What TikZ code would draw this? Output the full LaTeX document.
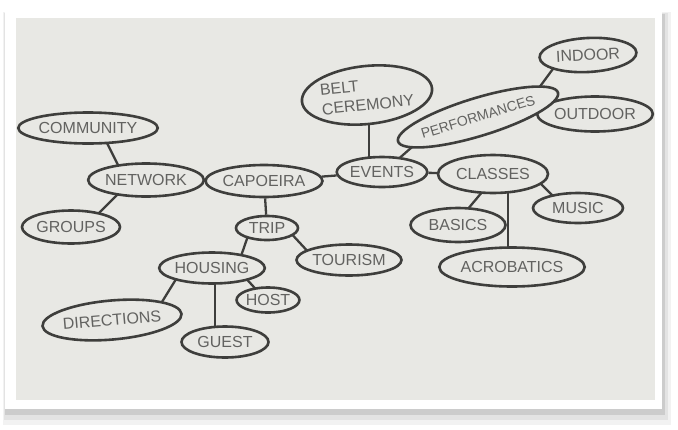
\documentclass[tikz,border=0pt]{standalone}
\usepackage{fontspec}
\setsansfont{Liberation Sans}
\usetikzlibrary{shapes.geometric,backgrounds}

\definecolor{paper}{RGB}{232,232,228}
\definecolor{ink}{RGB}{62,62,60}
\definecolor{pencil}{RGB}{98,98,96}

\tikzset{
  idea/.style={ellipse, draw=ink, fill=paper, line width=2.6pt, inner sep=0pt,
    text=pencil, font=\sffamily\fontsize{16}{20}\selectfont, align=left},
  link/.style={draw=ink, line width=2.3pt}
}

\begin{document}
\begin{tikzpicture}[x=1pt, y=-1pt]
  \useasboundingbox (0,0) rectangle (678,429);
  % Nodes
  \foreach \n/\x/\y/\w/\h/\r/\t in {
      comm/88/128/120/31/0/COMMUNITY,
      net/146/180/95/33/0/NETWORK,
      grp/71/227/92/33/0/GROUPS,
      cap/264/181/112/32/0/CAPOEIRA,
      evt/382/172/90/30/0/EVENTS,
      belt/367/95/130/58/6/{BELT\\CEREMONY},
      ind/588/55/97/34/3/INDOOR,
      out/595/114/100/35/0/OUTDOOR,
      cls/493/174/110/38/0/CLASSES,
      mus/578/208/90/30/0/MUSIC,
      bas/458/225/95/34/0/BASICS,
      acro/512/267/136/39/0/ACROBATICS,
      trip/267/228/62/24/0/TRIP,
      tour/349/260/105/31/0/TOURISM,
      hous/212/268/102/31/0/HOUSING,
      host/268/300/60/25/0/HOST,
      dir/112/320/132/39/5/DIRECTIONS,
      guest/225/342/87/31/0/GUEST} {
    \node[idea, minimum width=\w, minimum height=\h, rotate=\r] (\n) at (\x,\y) {\t};
  }
  \node[idea, minimum width=140, minimum height=38, rotate=17,
    font=\sffamily\fontsize{14}{15}\selectfont] (perf) at (478,117) {PERFORMANCES};

  \begin{pgfonlayer}{background}
    % Photo frame
    \fill[black!5] (3,12) rectangle (671,425);
    \fill[black!11] (4,13) rectangle (668,420);
    \fill[black!20] (5,14) rectangle (665,415);
    \fill[white] (5,10) rectangle (662,409);
    \fill[paper] (16,18) rectangle (655,400);
    % Links
    \draw[link] ([shift={(15,7)}]comm.center) -- ([shift={(-25,-9)}]net.center);
    \draw[link] ([shift={(24,-10)}]grp.center) -- ([shift={(-24,10)}]net.center);
    \draw[link] (net) -- (cap);
    \draw[link] (cap) -- (evt);
    \draw[link] (evt) -- (cls);
    \draw[link] (cap) -- (trip);
    \draw[link] ([shift={(2,0)}]belt.center) -- ([shift={(-13,0)}]evt.center);
    \draw[link] ([shift={(13,-10)}]evt.center) -- ([shift={(-50,16)}]perf.center);
    \draw[link] ([shift={(44,-6)}]perf.center) -- ([shift={(-30,7)}]ind.center);
    \draw[link] ([shift={(52,-16)}]perf.center) -- ([shift={(-39,8)}]out.center);
    \draw[link] ([shift={(42,4)}]cls.center) -- ([shift={(-18,-5)}]mus.center);
    \draw[link] ([shift={(-5,11)}]cls.center) -- ([shift={(4,-9)}]bas.center);
    \draw[link] ([shift={(15,0)}]cls.center) -- ([shift={(-4,0)}]acro.center);
    \draw[link] ([shift={(-17,2)}]trip.center) -- ([shift={(27,-6)}]hous.center);
    \draw[link] ([shift={(20,1)}]trip.center) -- ([shift={(-37,-4)}]tour.center);
    \draw[link] ([shift={(-34,8)}]hous.center) -- ([shift={(45,-10)}]dir.center);
    \draw[link] ([shift={(3,0)}]hous.center) -- ([shift={(-10,0)}]guest.center);
    \draw[link] ([shift={(30,6)}]hous.center) -- ([shift={(-6,-4)}]host.center);
  \end{pgfonlayer}
\end{tikzpicture}
\end{document}
